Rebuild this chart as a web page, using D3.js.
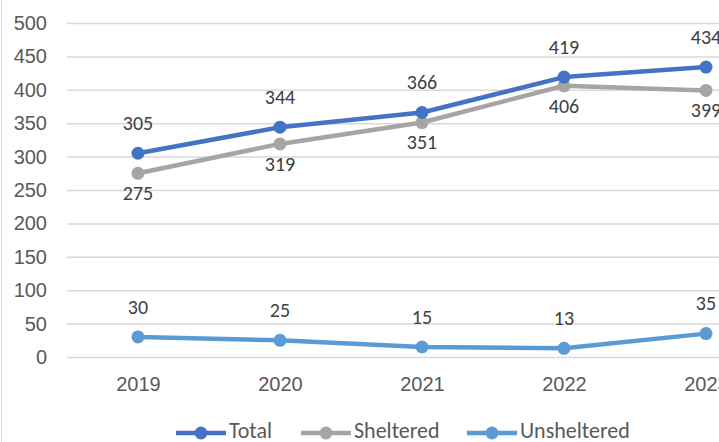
<!DOCTYPE html>
<html><head><meta charset="utf-8">
<script src="https://cdn.jsdelivr.net/npm/d3@7"></script>
<style>body{margin:0;background:#fff;}svg{display:block;font-family:Calibri,Carlito,Lato,"Open Sans","Liberation Sans",sans-serif;}</style>
</head><body>
<svg id="c" width="719" height="442"></svg>
<script>
const years = ["2019","2020","2021","2022","2023"];
const total = [305,344,366,419,434];
const sheltered = [275,319,351,406,399];
const unsheltered = [30,25,15,13,35];
const yTicks = [0,50,100,150,200,250,300,350,400,450,500];

(function(){
const svg = d3.select("#c");
const fs = 20;
const plotLeft = 67, plotTop = 23, plotBottom = 357, step = 142;
const x = d3.scalePoint().domain(years).range([plotLeft, plotLeft + step*5]).padding(0.5);
const y = d3.scaleLinear().domain([0,500]).range([plotBottom, plotTop]);

svg.append("line").attr("x1",1.5).attr("x2",1.5).attr("y1",0).attr("y2",442).attr("stroke","#d9d9d9").attr("stroke-width",1);

const yAxis = d3.axisLeft(y).tickValues(yTicks).tickSize(-(719-plotLeft)).tickPadding(20);
const ga = svg.append("g").attr("transform",`translate(${plotLeft},0)`).call(yAxis);
ga.select(".domain").remove();
ga.selectAll(".tick line").attr("stroke","#d9d9d9").attr("stroke-width",1.5);
ga.selectAll(".tick text").attr("fill","#595959").attr("font-size",fs);

const xAxis = d3.axisBottom(x).tickSize(0).tickPadding(20);
const gx = svg.append("g").attr("transform",`translate(0,${plotBottom})`).call(xAxis);
gx.select(".domain").remove();
gx.selectAll(".tick text").attr("fill","#595959").attr("font-size",fs);

const series = [
  {name:"Total", values:total, color:"#4472C4", pos:"above"},
  {name:"Sheltered", values:sheltered, color:"#A5A5A5", pos:"below"},
  {name:"Unsheltered", values:unsheltered, color:"#5B9BD5", pos:"above"}
];
const line = d3.line().x((d,i)=>x(years[i])).y(d=>y(d));
[series[2], series[1], series[0]].forEach(s=>{
  svg.append("path").datum(s.values).attr("d",line).attr("fill","none")
    .attr("stroke",s.color).attr("stroke-width",4.5).attr("stroke-linejoin","round");
  svg.selectAll(null).data(s.values).enter().append("circle")
    .attr("cx",(d,i)=>x(years[i])).attr("cy",d=>y(d)).attr("r",6.5).attr("fill",s.color);
});
series.forEach(s=>{
  svg.selectAll(null).data(s.values).enter().append("text")
    .attr("x",(d,i)=>x(years[i])).attr("y",d=>y(d) + (s.pos==="above"? -28 : 22))
    .attr("text-anchor","middle").attr("dominant-baseline","middle")
    .attr("fill","#404040").attr("font-size",fs).text(d=>d);
});

const legend = [
  {name:"Total", color:"#4472C4", x:176},
  {name:"Sheltered", color:"#A5A5A5", x:301},
  {name:"Unsheltered", color:"#5B9BD5", x:467}
];
const ly = 433;
legend.forEach(l=>{
  svg.append("line").attr("x1",l.x).attr("x2",l.x+50).attr("y1",ly).attr("y2",ly)
    .attr("stroke",l.color).attr("stroke-width",4.5);
  svg.append("circle").attr("cx",l.x+25).attr("cy",ly).attr("r",6.5).attr("fill",l.color);
  svg.append("text").attr("x",l.x+53).attr("y",ly).attr("dominant-baseline","middle")
    .attr("fill","#595959").attr("font-size",22).text(l.name);
});
})();
</script>
</body></html>
